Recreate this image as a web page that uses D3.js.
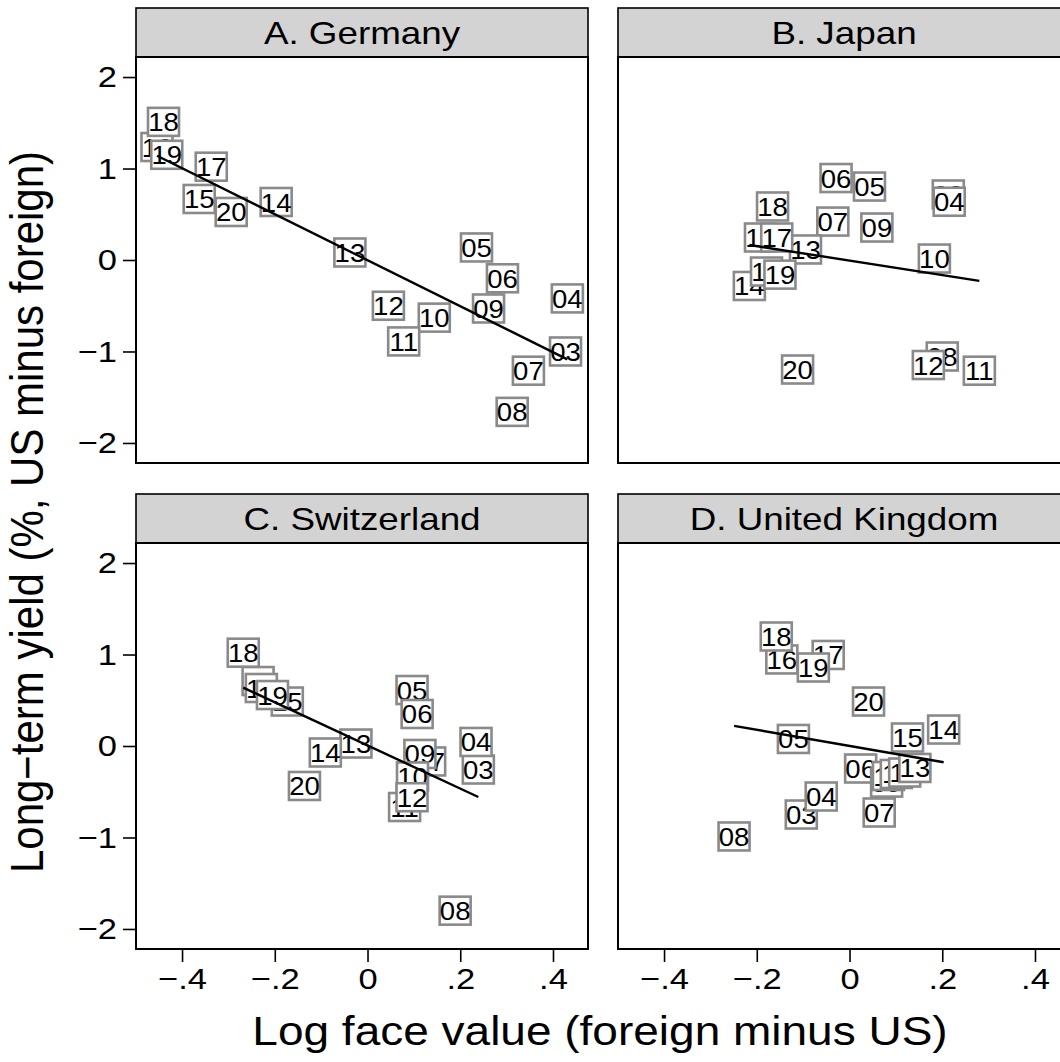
<!DOCTYPE html>
<html>
<head>
<meta charset="utf-8">
<script src="https://cdn.jsdelivr.net/npm/d3@7"></script>
<style>
  html, body { margin: 0; padding: 0; background: #fff; }
  svg { display: block; font-family: "Liberation Sans", Arial, Helvetica, sans-serif; }
</style>
</head>
<body>
<svg id="chart" width="1060" height="1062"></svg>
<script>
// year labels (2003..2020)
var years = ['03','04','05','06','07','08','09','10','11','12','13','14','15','16','17','18','19','20'];

// A. Germany
var germanyX = [0.427, 0.431, 0.235, 0.291, 0.347, 0.312, 0.261, 0.144, 0.078, 0.045, -0.038, -0.197, -0.363, -0.454, -0.337, -0.440, -0.433, -0.294];
var germanyY = [-1.00, -0.42, 0.137, -0.20, -1.21, -1.66, -0.53, -0.63, -0.89, -0.50, 0.082, 0.634, 0.667, 1.235, 1.02, 1.51, 1.15, 0.525];

// B. Japan
var japanX = [0.213, 0.215, 0.043, -0.029, -0.036, 0.200, 0.059, 0.183, 0.280, 0.170, -0.095, -0.216, -0.179, -0.192, -0.157, -0.166, -0.150, -0.112];
var japanY = [0.716, 0.637, 0.803, 0.896, 0.420, -1.055, 0.355, 0.016, -1.21, -1.148, 0.115, -0.284, -0.126, 0.246, 0.246, 0.585, -0.160, -1.197];

// C. Switzerland
var swissX = [0.239, 0.234, 0.096, 0.107, 0.134, 0.189, 0.113, 0.097, 0.080, 0.096, -0.025, -0.091, -0.173, -0.236, -0.229, -0.268, -0.205, -0.136];
var swissY = [-0.257, 0.044, 0.612, 0.350, -0.169, -1.80, -0.087, -0.333, -0.667, -0.560, 0.027, -0.071, 0.486, 0.710, 0.634, 1.02, 0.557, -0.437];

// D. United Kingdom
var ukX = [-0.104, -0.061, -0.121, 0.024, 0.064, -0.249, 0.080, 0.084, 0.101, 0.119, 0.141, 0.203, 0.125, -0.146, -0.046, -0.158, -0.078, 0.041];
var ukY = [-0.749, -0.552, 0.077, -0.246, -0.727, -0.989, -0.400, -0.328, -0.306, -0.290, -0.240, 0.180, 0.093, 0.946, 0.995, 1.197, 0.858, 0.486];

var panelTitles = ['A. Germany', 'B. Japan', 'C. Switzerland', 'D. United Kingdom'];
var xTicks = [-0.4, -0.2, 0, 0.2, 0.4];
var yTicks = [-2, -1, 0, 1, 2];

var panels = [
  { title: panelTitles[0], xs: germanyX, ys: germanyY, col: 0, row: 0 },
  { title: panelTitles[1], xs: japanX, ys: japanY, col: 1, row: 0 },
  { title: panelTitles[2], xs: swissX, ys: swissY, col: 0, row: 1 },
  { title: panelTitles[3], xs: ukX, ys: ukY, col: 1, row: 1 }
];

var svg = d3.select('#chart');

var colLeft = [136, 618];
var rowTop = [57, 543];      // top of plot area
var plotW = 452, plotH = 406, headH = 49;
var sx = 1.15;               // text in the original is a bit wider than tall

var x = d3.scaleLinear().domain([-0.4993, 0.4755]).range([0, plotW]);
var y = d3.scaleLinear().domain([-2.219, 2.219]).range([plotH, 0]);

function fmtX(d) {
  if (d === 0) return '0';
  var s = String(Math.abs(d)).replace(/^0/, '');
  return (d < 0 ? '\u2212' : '') + s;
}
function fmtY(d) {
  return (d < 0 ? '\u2212' : '') + Math.abs(d);
}

// move x/y of a text into a transform so the horizontal stretch doesn't shift it
function widen(sel, k) {
  sel.each(function() {
    var t = d3.select(this);
    var tx = +t.attr('x') || 0, ty = +t.attr('y') || 0;
    t.attr('x', 0).attr('y', 0)
      .attr('transform', 'translate(' + tx + ',' + ty + ') scale(' + k + ',1)');
  });
}

function fitLine(xs, ys) {
  var mx = d3.mean(xs), my = d3.mean(ys);
  var sxy = d3.sum(xs, function(v, i) { return (v - mx) * (ys[i] - my); });
  var sxx = d3.sum(xs, function(v) { return (v - mx) * (v - mx); });
  var b = sxy / sxx, a = my - b * mx;
  var ext = d3.extent(xs);
  return [[ext[0], a + b * ext[0]], [ext[1], a + b * ext[1]]];
}

panels.forEach(function(p) {
  var g = svg.append('g')
    .attr('transform', 'translate(' + colLeft[p.col] + ',' + rowTop[p.row] + ')');

  // header strip
  g.append('rect')
    .attr('x', 0).attr('y', -headH)
    .attr('width', plotW).attr('height', headH)
    .attr('fill', '#d3d3d3')
    .attr('stroke', '#000').attr('stroke-width', 1.6);
  g.append('text')
    .attr('x', plotW / 2).attr('y', -headH / 2 + 11)
    .attr('text-anchor', 'middle')
    .style('font-size', '32px')
    .text(p.title)
    .call(widen, sx);

  // plot area
  g.append('rect')
    .attr('width', plotW).attr('height', plotH)
    .attr('fill', '#fff')
    .attr('stroke', '#000').attr('stroke-width', 2);

  var pts = years.map(function(lab, i) { return { lab: lab, x: p.xs[i], y: p.ys[i] }; });

  var mk = g.selectAll('g.pt').data(pts).enter().append('g')
    .attr('class', 'pt')
    .attr('transform', function(d) { return 'translate(' + x(d.x) + ',' + y(d.y) + ')'; });
  mk.append('rect')
    .attr('x', -15.5).attr('y', -14).attr('width', 31).attr('height', 28)
    .attr('fill', '#fff')
    .attr('stroke', '#8a8a8a').attr('stroke-width', 2.6);
  mk.append('text')
    .attr('text-anchor', 'middle')
    .attr('y', 9.5)
    .style('font-size', '26px')
    .text(function(d) { return d.lab; })
    .call(widen, 1.06);

  var fl = fitLine(p.xs, p.ys);
  g.append('line')
    .attr('x1', x(fl[0][0])).attr('y1', y(fl[0][1]))
    .attr('x2', x(fl[1][0])).attr('y2', y(fl[1][1]))
    .attr('stroke', '#000').attr('stroke-width', 2.4);

  if (p.col === 0) {
    var ya = g.append('g').call(d3.axisLeft(y).tickValues(yTicks).tickSize(13).tickFormat(fmtY));
    ya.select('.domain').remove();
    ya.selectAll('line').attr('stroke-width', 1.6);
    ya.selectAll('text').style('font-size', '30px').attr('x', -19).attr('fill', '#000').call(widen, sx);
  }
  if (p.row === 1) {
    var xa = g.append('g').attr('transform', 'translate(0,' + plotH + ')')
      .call(d3.axisBottom(x).tickValues(xTicks).tickSize(13).tickFormat(fmtX));
    xa.select('.domain').remove();
    xa.selectAll('line').attr('stroke-width', 1.6);
    xa.selectAll('text').style('font-size', '30px').attr('y', 19).attr('fill', '#000').call(widen, sx);
  }
});

// axis titles
svg.append('text')
  .attr('x', 600).attr('y', 1045)
  .attr('text-anchor', 'middle')
  .style('font-size', '40px')
  .text('Log face value (foreign minus US)')
  .call(widen, sx);

svg.append('text')
  .attr('transform', 'translate(43,' + 512 + ') rotate(-90) scale(1,1.1)')
  .attr('text-anchor', 'middle')
  .style('font-size', '42px')
  .text('Long\u2212term yield (%, US minus foreign)');
</script>
</body>
</html>
